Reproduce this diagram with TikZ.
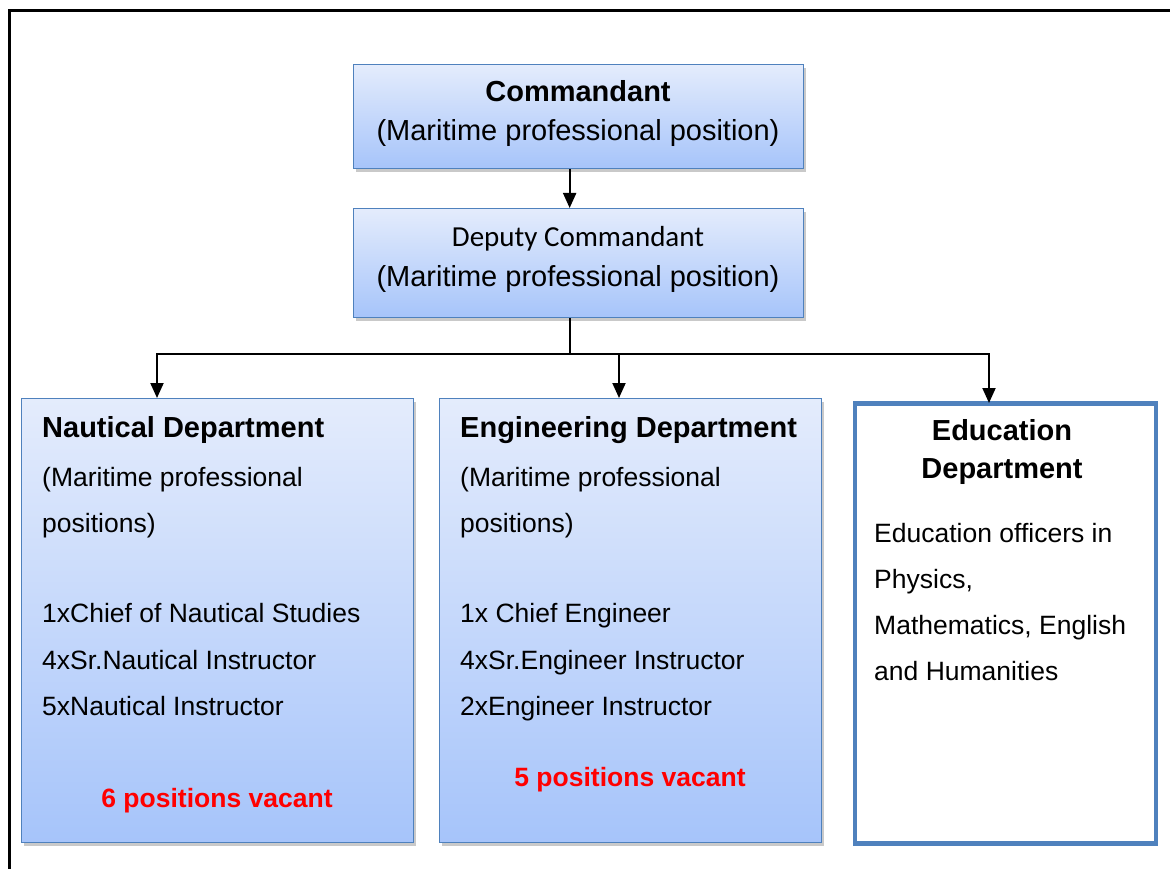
\documentclass[tikz,border=0pt]{standalone}
\usepackage{fontspec}
\setmainfont{Liberation Sans}
\newfontfamily\carl{Carlito}
\usetikzlibrary{arrows.meta,shadows,calc}
\definecolor{bord}{HTML}{4F81BD}
\definecolor{gtop}{HTML}{E4ECFC}
\definecolor{gbot}{HTML}{A6C4FA}
\begin{document}
\begin{tikzpicture}[x=1pt,y=-1pt,
  box/.style={draw=bord,line width=1.3pt,top color=gtop,bottom color=gbot,anchor=north west,inner sep=0pt,
    drop shadow={shadow xshift=2pt,shadow yshift=-3pt,opacity=0.3,fill=black!70}},
  wbox/.style={draw=bord,line width=4.5pt,fill=white,anchor=north west,inner sep=0pt},
  hd/.style={font=\fontsize{29}{35}\selectfont\bfseries,anchor=base west,inner sep=0pt},
  hdc/.style={font=\fontsize{29}{35}\selectfont\bfseries,anchor=base,inner sep=0pt},
  ctx/.style={font=\fontsize{29}{35}\selectfont,anchor=base,inner sep=0pt},
  tx/.style={font=\fontsize{26.5}{32}\selectfont,anchor=base west,inner sep=0pt},
  vac/.style={font=\fontsize{26.5}{32}\selectfont\bfseries,text=red,anchor=base,inner sep=0pt},
  conn/.style={line width=2pt,draw=black},
  arr/.style={conn,-{Triangle[length=15pt,width=13pt]}}]
\useasboundingbox (0,0) rectangle (1170,869);
\draw[line width=3pt] (9.5,869) -- (9.5,10.5) -- (1170,10.5);

% boxes
\node[box,minimum width=450pt,minimum height=104pt] (cmd) at (353,64) {};
\node[box,minimum width=450pt,minimum height=109pt] (dep) at (353,208) {};
\node[box,minimum width=392pt,minimum height=444pt] (naut) at (21,398) {};
\node[box,minimum width=382pt,minimum height=444pt] (eng) at (439,398) {};
\node[wbox,minimum width=301pt,minimum height=440pt] (edu) at (852.5,401) {};

% texts
\node[hdc] (cmdA) at (578,102) {Commandant};
\node[ctx] (cmdB) at (578,141) {(Maritime professional position)};
\node[ctx,font=\fontsize{29}{35}\selectfont\carl] (depA) at (578,247) {Deputy Commandant};
\node[ctx] (depB) at (578,287) {(Maritime professional position)};

\node[hd] (nA) at (42,437) {Nautical Department};
\node[tx] (nB) at (42,486) {(Maritime professional};
\node[tx] (nC) at (42,532) {positions)};
\node[tx] (nD) at (42,622) {1xChief of Nautical Studies};
\node[tx] (nE) at (42,669) {4xSr.Nautical Instructor};
\node[tx] (nF) at (42,715) {5xNautical Instructor};
\node[vac] (nG) at (217,807) {6 positions vacant};

\node[hd] (eA) at (460,437) {Engineering Department};
\node[tx] (eB) at (460,486) {(Maritime professional};
\node[tx] (eC) at (460,532) {positions)};
\node[tx] (eD) at (460,622) {1x Chief Engineer};
\node[tx] (eE) at (460,669) {4xSr.Engineer Instructor};
\node[tx] (eF) at (460,715) {2xEngineer Instructor};
\node[vac] (eG) at (630,786) {5 positions vacant};

\node[hdc] (dA) at (1002,440) {Education};
\node[hdc] (dB) at (1002,478) {Department};
\node[tx] (dC) at (874,542) {Education officers in};
\node[tx] (dD) at (874,588) {Physics,};
\node[tx] (dE) at (874,634) {Mathematics, English};
\node[tx] (dF) at (874,680) {and Humanities};

% connectors
\coordinate (bus) at ($([xshift=-9pt]dep.south)+(0,36)$);
\draw[arr] ([xshift=-9pt]cmd.south) -- ([xshift=-9pt]dep.north);
\draw[conn] ([xshift=-9pt]dep.south) -- (bus);
\draw[arr] (bus) -| ([xshift=136pt]naut.north west);
\draw[arr] (bus) -| ([xshift=180pt]eng.north west);
\draw[arr] (bus) -| ([xshift=136.5pt,yshift=-2pt]edu.north west);
\end{tikzpicture}
\end{document}
